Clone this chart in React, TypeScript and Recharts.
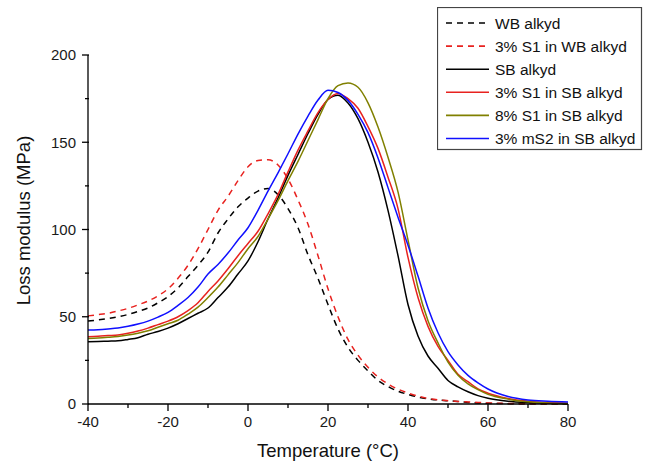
import React from 'react';
import { LineChart, Line, XAxis, YAxis, Legend, Label } from 'recharts';

const temps = [-40, -37.5, -35, -32.5, -30, -27.5, -25, -22.5, -20, -17.5, -15, -12.5, -10, -7.5, -5, -2.5, 0, 2.5, 5, 7.5, 10, 12.5, 15, 17.5, 20, 22.5, 25, 27.5, 30, 32.5, 35, 37.5, 40, 42.5, 45, 47.5, 50, 52.5, 55, 57.5, 60, 65, 70, 75, 80];

const wbAlkyd = [47.5, 48.2, 49, 50, 51.3, 53, 55, 58, 61.5, 66.5, 73, 79.5, 87, 98, 106, 113, 118, 122, 123.5, 120, 112, 101, 85.5, 72, 57, 43, 32.5, 25, 19, 13.5, 10, 7.3, 5.5, 4, 3, 2.3, 1.9, 1.4, 0.9, 0.6, 0.4, 0.2, 0.1, 0, 0];
const s1InWb = [50.5, 51.2, 52, 53.3, 54.8, 56.8, 59, 62, 66, 72, 79.5, 89, 100, 111, 119, 128, 136, 139.5, 140, 137, 129, 117, 103, 85, 66, 50, 37, 28, 21, 15.5, 11.5, 8.5, 6.3, 4.5, 3.2, 2.4, 1.9, 1.5, 1.2, 0.9, 0.6, 0.3, 0.1, 0, 0];
const sbAlkyd = [35.7, 35.8, 36, 36.2, 37, 38, 40, 41.5, 43.5, 46, 49, 52, 55, 61, 67, 74.5, 82, 93, 106, 118, 131, 143, 155, 166, 174.5, 177, 172.5, 163.5, 150, 133, 111, 85, 57, 39, 27.5, 20.5, 13.5, 9.8, 7, 4.8, 3.3, 1.6, 0.8, 0.4, 0.2];
const s1InSb = [38.6, 38.8, 39.2, 39.6, 40.5, 41.8, 43.5, 45.5, 47.5, 50, 53.5, 58, 64.5, 70.5, 77.5, 85, 92, 99, 109, 120, 133, 145.5, 156.5, 167, 174.5, 178, 175, 169.5, 159, 146.5, 130, 112, 84, 61, 44.5, 33, 25, 17, 12.8, 8.7, 6.2, 3.2, 1.6, 0.8, 0.4];
const s8InSb = [37.6, 37.8, 38.2, 38.7, 39.5, 40.6, 42, 44, 46, 48, 51.5, 55.5, 61, 67, 74, 81, 89, 96, 106, 116.5, 128, 139, 151, 163, 175, 182.4, 184, 181.5, 172.6, 158.7, 141.4, 121.6, 94, 66.6, 47.7, 35, 24, 16.5, 11.5, 8.2, 5.5, 2.8, 1.3, 0.6, 0.3];
const ms2InSb = [42.4, 42.6, 43, 43.5, 44.5, 45.8, 47.5, 49.8, 52.5, 56.5, 61, 67, 74.5, 80, 86.5, 94, 101, 111, 122, 132.5, 143.4, 154.7, 165, 174.2, 179.8, 178.5, 174, 166, 155.5, 141, 124, 107, 91, 73.3, 55, 40.8, 30, 22.4, 16.4, 12.1, 8.6, 4.3, 2.3, 1.6, 1.2];

const seriesNames = ['WB alkyd', '3% S1 in WB alkyd', 'SB alkyd', '3% S1 in SB alkyd', '8% S1 in SB alkyd', '3% mS2 in SB alkyd'];
const seriesKeys = ['wb', 's1wb', 'sb', 's1sb', 's8sb', 'ms2sb'];
const seriesColors = ['#000000', '#e8221f', '#000000', '#e8221f', '#808000', '#1010ff'];
const seriesDashed = [true, true, false, false, false, false];
const seriesValues = [wbAlkyd, s1InWb, sbAlkyd, s1InSb, s8InSb, ms2InSb];

const xTicks = [-40, -30, -20, -10, 0, 10, 20, 30, 40, 50, 60, 70, 80];
const yTicks = [0, 25, 50, 75, 100, 125, 150, 175, 200];

const rows = temps.map((t, i) => {
  const r: any = { t };
  seriesKeys.forEach((k, j) => { r[k] = seriesValues[j][i]; });
  return r;
});

const FONT = "Arial, 'Liberation Sans', sans-serif";
const TICK_SIZE = 7;
const TICK_MARGIN = 5;
const DASH = '6 5';

const XTick = (props: any) => {
  const { x, y, payload } = props;
  const major = payload.value % 20 === 0;
  const axisY = y - TICK_SIZE - TICK_MARGIN;
  return (
    <g>
      <line x1={x} x2={x} y1={axisY} y2={axisY + (major ? 7 : 4)} stroke="#000" strokeWidth={1.3} />
      {major && (
        <text x={x} y={y} dy="0.71em" textAnchor="middle" fontSize={15} fontFamily={FONT} fill="#1a1a1a">
          {payload.value}
        </text>
      )}
    </g>
  );
};

const YTick = (props: any) => {
  const { x, y, payload } = props;
  const major = payload.value % 50 === 0;
  const axisX = x + TICK_SIZE + TICK_MARGIN + 1;
  return (
    <g>
      <line x1={axisX - (major ? 7 : 4)} x2={axisX} y1={y} y2={y} stroke="#000" strokeWidth={1.3} />
      {major && (
        <text x={x} y={y} dy="0.355em" textAnchor="end" fontSize={15} fontFamily={FONT} fill="#1a1a1a">
          {payload.value}
        </text>
      )}
    </g>
  );
};

const LegendBox = () => (
  <svg width={206} height={144} style={{ display: 'block' }}>
    <rect x={0.5} y={0.5} width={204} height={142} fill="#fff" stroke="#444" strokeWidth={1.2} />
    {seriesNames.map((n, i) => {
      const cy = 16 + i * 23.1;
      return (
        <g key={n}>
          <line x1={9} x2={52} y1={cy} y2={cy} stroke={seriesColors[i]} strokeWidth={1.6}
            strokeDasharray={seriesDashed[i] ? DASH : undefined} />
          <text x={58} y={cy} dy="0.36em" fontSize={15.5} fontFamily={FONT} fill="#111">{n}</text>
        </g>
      );
    })}
  </svg>
);

export default function App() {
  return (
    <div style={{ position: 'absolute', left: 0, top: 0, width: 649, height: 462, background: '#fff' }}>
      <LineChart width={649} height={462} data={rows} margin={{ top: 55, right: 81, bottom: 0, left: 0 }}>
        <XAxis dataKey="t" type="number" domain={[-40, 80]} ticks={xTicks} interval={0}
          height={58} tickSize={TICK_SIZE} tickMargin={TICK_MARGIN} tickLine={false}
          axisLine={{ stroke: '#000', strokeWidth: 1.3 }} tick={<XTick />}>
          <Label content={(p: any) => {
            const vb = p.viewBox;
            return (
              <text x={vb.x + vb.width / 2} y={450} textAnchor="middle" dominantBaseline="central"
                fontSize={18.5} fontFamily={FONT} fill="#111">Temperature (°C)</text>
            );
          }} />
        </XAxis>
        <YAxis type="number" domain={[0, 200]} ticks={yTicks} interval={0} width={88}
          tickSize={TICK_SIZE} tickMargin={TICK_MARGIN} tickLine={false}
          axisLine={{ stroke: '#000', strokeWidth: 1.3 }} tick={<YTick />}>
          <Label content={(p: any) => {
            const vb = p.viewBox;
            const cy = vb.y + vb.height / 2 - 9;
            return (
              <text x={23} y={cy} transform={`rotate(-90, 23, ${cy})`} textAnchor="middle" dominantBaseline="central"
                fontSize={18.5} fontFamily={FONT} fill="#111">Loss modulus (MPa)</text>
            );
          }} />
        </YAxis>
        <Legend layout="vertical" align="center" verticalAlign="middle"
          wrapperStyle={{ left: 437, top: 7, width: 206, height: 144 }} content={() => <LegendBox />} />
        {seriesKeys.map((k, i) => (
          <Line key={k} dataKey={k} name={seriesNames[i]} type="monotone" stroke={seriesColors[i]}
            strokeWidth={1.5} strokeDasharray={seriesDashed[i] ? DASH : undefined}
            dot={false} activeDot={false} isAnimationActive={false} />
        ))}
      </LineChart>
    </div>
  );
}
